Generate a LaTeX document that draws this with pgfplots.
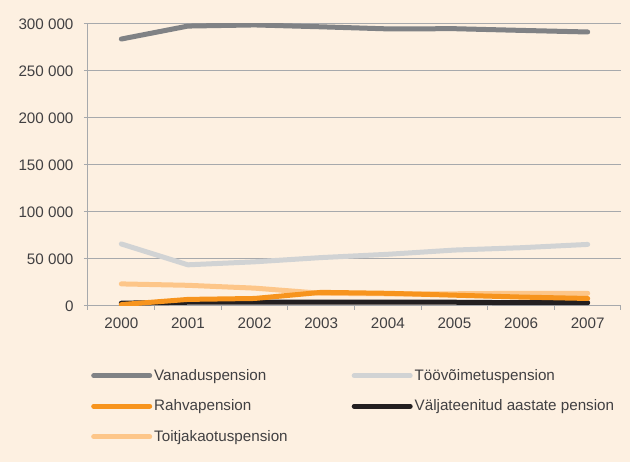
\documentclass[border=0pt]{standalone}
\usepackage{pgfplots}
\pgfplotsset{compat=1.18}
\usepackage{fontspec}
\setmainfont{Liberation Sans}
\definecolor{bg}{HTML}{FDF0E1}
\definecolor{gridc}{HTML}{A7A9AC}
\definecolor{txt}{HTML}{414042}
\definecolor{cvan}{HTML}{808285}
\definecolor{ctoo}{HTML}{D1D3D4}
\definecolor{crah}{HTML}{F7941D}
\definecolor{cval}{HTML}{231F20}
\definecolor{ctoi}{HTML}{FDC689}
\begin{document}
\begin{tikzpicture}[x=1pt,y=1pt]
\fill[bg] (0,0) rectangle (630,462);
\begin{axis}[
  at={(88pt,156pt)}, anchor=south west,
  scale only axis, width=533pt, height=282pt,
  xmin=-0.5, xmax=7.5, ymin=0, ymax=300000,
  axis x line*=bottom,
  x axis line style={draw=none},
  axis y line*=left,
  y axis line style={draw=gridc, line width=1pt},
  xtick={-0.5,0.5,...,7.5},
  x tick label as interval,
  xticklabels={2000,2001,2002,2003,2004,2005,2006,2007},
  scaled y ticks=false,
  ytick={0,50000,100000,150000,200000,250000,300000},
  yticklabels={0,50 000,100 000,150 000,200 000,250 000,300 000},
  ymajorgrids,
  grid style={draw=gridc, line width=1pt},
  tick style={draw=gridc, line width=1pt},
  tick align=outside, major tick length=4pt,
  ticklabel style={font=\fontsize{15.2}{17}\selectfont, text=txt},
  yticklabel style={xshift=-7pt},
  xticklabel style={yshift=-4pt},
  legend columns=2,
  legend style={at={(0,-0.21)}, anchor=north west, draw=none, fill=none,
    font=\fontsize{15.2}{17}\selectfont, text=txt,
    /tikz/row sep=14pt,
    /tikz/every even column/.append style={column sep=62pt}},
  legend cell align=left,
  legend image code/.code={\draw[#1] (0pt,0pt) -- (56pt,0pt);},
  every axis plot/.append style={line width=5pt, line cap=round, line join=round},
]
\addplot[cvan, forget plot] coordinates {(0,284000) (1,297800) (2,299000) (3,297000) (4,294800) (5,295000) (6,293200) (7,291500)};
\addplot[ctoo, forget plot] coordinates {(0,66000) (1,43800) (2,47000) (3,51500) (4,55000) (5,59500) (6,62000) (7,65500)};
\addplot[ctoi, forget plot] coordinates {(0,23500) (1,22000) (2,19000) (3,13500) (4,13000) (5,13000) (6,13500) (7,13500)};
\addplot[cval, forget plot] coordinates {(0,3000) (1,4000) (2,4000) (3,4000) (4,4000) (5,4000) (6,3500) (7,3500)};
\addplot[crah, forget plot] coordinates {(0,1500) (1,7000) (2,8000) (3,14500) (4,13500) (5,11500) (6,9500) (7,8000)};
\addlegendimage{cvan, line width=5pt, line cap=round}
\addlegendentry{Vanaduspension}
\addlegendimage{ctoo, line width=5pt, line cap=round}
\addlegendentry{Töövõimetuspension}
\addlegendimage{crah, line width=5pt, line cap=round}
\addlegendentry{Rahvapension}
\addlegendimage{cval, line width=5pt, line cap=round}
\addlegendentry{Väljateenitud aastate pension}
\addlegendimage{ctoi, line width=5pt, line cap=round}
\addlegendentry{Toitjakaotuspension}
\end{axis}
\useasboundingbox (0,0) rectangle (630,462);
\end{tikzpicture}
\end{document}
